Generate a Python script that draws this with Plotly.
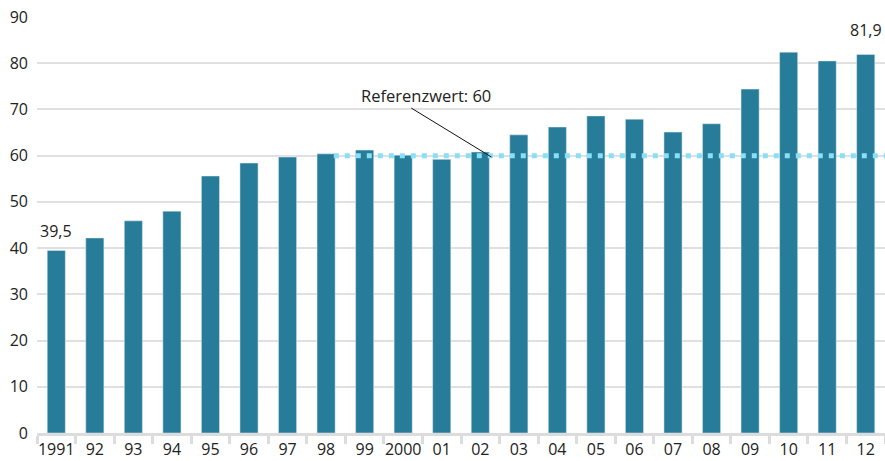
import plotly.graph_objects as go

years = ["1991", "92", "93", "94", "95", "96", "97", "98", "99", "2000",
         "01", "02", "03", "04", "05", "06", "07", "08", "09", "10", "11", "12"]
values = [39.5, 42.2, 45.9, 48.0, 55.6, 58.4, 59.7, 60.4, 61.2, 60.1,
          59.2, 60.8, 64.5, 66.2, 68.6, 67.9, 65.1, 66.9, 74.4, 82.4, 80.5, 81.9]
reference_value = 60
reference_label = "Referenzwert: 60"
y_ticks = [0, 10, 20, 30, 40, 50, 60, 70, 80, 90]

FONT = "Open Sans"
BAR = "#277d99"
GRID = "#e0e0e0"
TXT = "#222"

fig = go.Figure()
fig.add_trace(go.Bar(x=years, y=values, marker_color=BAR, width=0.47))

n = len(years)
# value labels for first and last bar (category index positions)
fig.add_annotation(x=0, y=values[0], text="39,5", showarrow=False,
                   yanchor="bottom", yshift=6,
                   font=dict(family=FONT, size=16, color=TXT))
fig.add_annotation(x=n - 1, y=values[-1], text="81,9", showarrow=False,
                   yanchor="bottom", yshift=11,
                   font=dict(family=FONT, size=16, color=TXT))
# reference dotted line
fig.add_shape(type="line", xref="x", yref="y", x0=7.2, x1=n - 0.5,
              y0=reference_value, y1=reference_value,
              line=dict(color="#88dff6", width=5, dash="5px,6px"), layer="above")
# leader line for annotation
fig.add_shape(type="line", xref="x", yref="y", x0=9.21, x1=11.29,
              y0=70.3, y1=59.7, line=dict(color="#111", width=1), layer="above")
fig.add_annotation(x=9.6, y=73.0, xref="x", yref="y", text=reference_label,
                   showarrow=False, font=dict(family=FONT, size=16.5, color=TXT))

fig.update_layout(
    width=885, height=461,
    margin=dict(l=37, r=0, t=17, b=28),
    plot_bgcolor="white", paper_bgcolor="white",
    showlegend=False,
    font=dict(family=FONT, size=16, color=TXT),
)
fig.update_xaxes(
    type="category", showline=True, linecolor="#dcdcdc", linewidth=3,
    ticks="outside", tickson="boundaries", ticklen=8, tickwidth=3,
    tickcolor="#dcdcdc", showgrid=False, tickangle=0, automargin=False,
    tickfont=dict(family=FONT, size=16, color=TXT),
    range=[-0.5, n - 0.5],
)
fig.update_yaxes(
    range=[0, 90], tickvals=y_ticks, showgrid=True, gridcolor=GRID,
    gridwidth=2, zeroline=False, ticks="", ticklabelstandoff=8,
    automargin=False,
    tickfont=dict(family=FONT, size=16, color=TXT),
)

fig.write_html("out.html", config={"displayModeBar": False},
               post_script="document.body.style.margin='0';document.body.style.overflow='hidden';")
